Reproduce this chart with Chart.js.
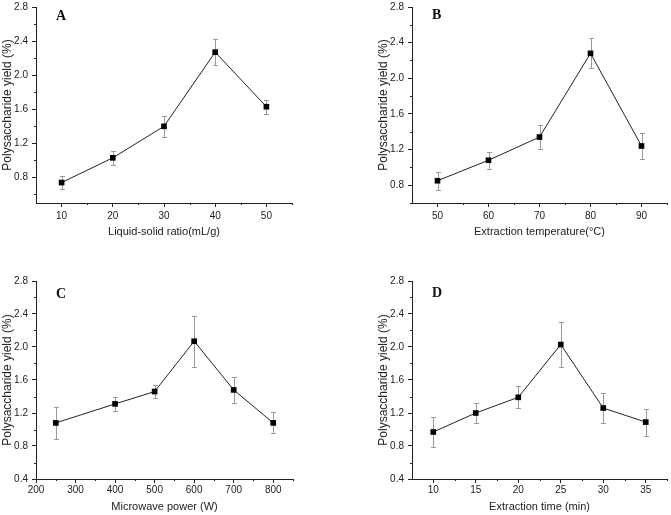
<!DOCTYPE html>
<html>
<head>
<meta charset="utf-8">
<script src="https://cdn.jsdelivr.net/npm/chart.js@4.4.1/dist/chart.umd.min.js"></script>
<style>
  body { margin: 0; background: #fff; width: 671px; height: 515px; position: relative; overflow: hidden; }
  canvas { position: absolute; }
</style>
</head>
<body>
<canvas id="chartA" width="335" height="260" style="left:0;top:-3px"></canvas>
<canvas id="chartB" width="336" height="260" style="left:335px;top:-3px"></canvas>
<canvas id="chartC" width="335" height="258" style="left:0;top:257px"></canvas>
<canvas id="chartD" width="336" height="258" style="left:335px;top:257px"></canvas>
<script>
// A - liquid-solid ratio
var ratioX = [10, 20, 30, 40, 50]
var ratioYield = [0.74, 1.03, 1.40, 2.27, 1.63]
var ratioErr = [0.08, 0.08, 0.125, 0.155, 0.08]

// B - extraction temperature
var tempX = [50, 60, 70, 80, 90]
var tempYield = [0.85, 1.08, 1.34, 2.28, 1.24]
var tempErr = [0.10, 0.093, 0.134, 0.167, 0.145]

// C - microwave power
var powerX = [250, 400, 500, 600, 700, 800]
var powerYield = [1.08, 1.31, 1.46, 2.07, 1.48, 1.08]
var powerErr = [0.19, 0.08, 0.075, 0.31, 0.16, 0.128]

// D - extraction time
var timeX = [10, 15, 20, 25, 30, 35]
var timeYield = [0.97, 1.20, 1.39, 2.03, 1.26, 1.09]
var timeErr = [0.187, 0.12, 0.135, 0.27, 0.178, 0.164]

// tick labels
var yTicksAB = [0.8, 1.2, 1.6, 2.0, 2.4, 2.8]
var yTicksCD = [0.4, 0.8, 1.2, 1.6, 2.0, 2.4, 2.8]
var yMinor = [0.6, 1.0, 1.4, 1.8, 2.2, 2.6]
var xTicksA = [10, 20, 30, 40, 50]
var xMinorA = [15, 25, 35, 45, 55]
var xTicksB = [50, 60, 70, 80, 90]
var xMinorB = [55, 65, 75, 85, 95]
var xTicksC = [200, 300, 400, 500, 600, 700, 800]
var xMinorC = [250, 350, 450, 550, 650, 750, 850]
var xTicksD = [10, 15, 20, 25, 30, 35]
var xMinorD = [12.5, 17.5, 22.5, 27.5, 32.5, 37.5]

var yTitle = 'Polysaccharide yield (%)'
var sans = "'Liberation Sans', Arial, sans-serif"
var ink = '#222'

// error bars, minor ticks and panel letter
var extras = {
    id: 'extras',
    beforeDatasetsDraw: function(chart, args, o) {
        var ctx = chart.ctx
        var xs = chart.scales.x, ys = chart.scales.y
        ctx.save()
        ctx.strokeStyle = '#9a9a9a'
        ctx.lineWidth = 1
        o.err.forEach(function(e, i) {
            var px = Math.round(xs.getPixelForValue(o.xv[i])) + 0.5
            var top = Math.round(ys.getPixelForValue(o.yv[i] + e)) + 0.5
            var bot = Math.round(ys.getPixelForValue(o.yv[i] - e)) + 0.5
            ctx.beginPath()
            ctx.moveTo(px, top); ctx.lineTo(px, bot)
            ctx.moveTo(px - 2.5, top); ctx.lineTo(px + 2.5, top)
            ctx.moveTo(px - 2.5, bot); ctx.lineTo(px + 2.5, bot)
            ctx.stroke()
        })
        ctx.restore()
    },
    afterDraw: function(chart, args, o) {
        var ctx = chart.ctx
        var xs = chart.scales.x, ys = chart.scales.y
        var area = chart.chartArea
        ctx.save()
        ctx.strokeStyle = ink
        ctx.lineWidth = 1
        ctx.beginPath()
        o.xMinor.forEach(function(v) {
            var px = Math.round(xs.getPixelForValue(v)) + 0.5
            ctx.moveTo(px, area.bottom); ctx.lineTo(px, area.bottom + 2)
        })
        o.yMinor.forEach(function(v) {
            var py = Math.round(ys.getPixelForValue(v)) + 0.5
            ctx.moveTo(area.left, py); ctx.lineTo(area.left - 2, py)
        })
        ctx.stroke()
        ctx.fillStyle = '#111'
        ctx.font = "bold 14px 'Liberation Serif', 'Times New Roman', serif"
        ctx.textBaseline = 'alphabetic'
        ctx.fillText(o.letter, area.left + o.letterDx, area.top + o.letterDy)
        ctx.restore()
    }
}

function makeChart(id, p) {
    var pts = p.xv.map(function(x, i) { return { x: x, y: p.yv[i] } })
    return new Chart(document.getElementById(id), {
        type: 'line',
        data: {
            datasets: [{
                data: pts,
                borderColor: ink,
                borderWidth: 1,
                pointStyle: 'rect',
                pointRadius: 4,
                pointBackgroundColor: '#000',
                pointBorderColor: '#000',
                pointBorderWidth: 0,
                tension: 0,
                fill: false
            }]
        },
        options: {
            responsive: false,
            animation: false,
            layout: { padding: { left: p.padLeft, right: p.padRight, top: p.padTop, bottom: 0 } },
            plugins: {
                legend: { display: false },
                tooltip: { enabled: false },
                extras: {
                    xv: p.xv, yv: p.yv, err: p.err,
                    xMinor: p.xMinor, yMinor: yMinor,
                    letter: p.letter, letterDx: p.letterDx, letterDy: p.letterDy
                }
            },
            scales: {
                x: {
                    type: 'linear',
                    min: p.xMin,
                    max: p.xMax,
                    afterBuildTicks: function(s) { s.ticks = p.xTicks.map(function(v) { return { value: v } }) },
                    afterFit: function(s) { s.height = p.xHeight },
                    grid: { drawOnChartArea: false, tickLength: 4, color: ink },
                    border: { color: ink, width: 1 },
                    ticks: {
                        autoSkip: false, maxRotation: 0, padding: p.xTickPad, color: ink,
                        font: { family: sans, size: 10 },
                        callback: function(v) { return String(v) }
                    },
                    title: {
                        display: true, text: p.xTitle, color: ink,
                        font: { family: sans, size: 11 },
                        padding: { top: 0, bottom: p.xTitlePad }
                    }
                },
                y: {
                    min: p.yMin,
                    max: 2.8,
                    afterBuildTicks: function(s) { s.ticks = p.yTicks.map(function(v) { return { value: v } }) },
                    afterFit: function(s) { s.width = p.yWidth },
                    grid: { drawOnChartArea: false, tickLength: 4, color: ink },
                    border: { color: ink, width: 1 },
                    ticks: {
                        padding: 4, color: ink,
                        font: { family: sans, size: 10 },
                        callback: function(v) { return v.toFixed(1) }
                    },
                    title: {
                        display: true, text: yTitle, color: ink,
                        font: { family: sans, size: 12 },
                        padding: { top: 0, bottom: 0 }
                    }
                }
            }
        },
        plugins: [extras]
    })
}

makeChart('chartA', {
    xv: ratioX, yv: ratioYield, err: ratioErr,
    xMin: 5, xMax: 55, xTicks: xTicksA, xMinor: xMinorA,
    yMin: 0.5, yTicks: yTicksAB,
    xTitle: 'Liquid-solid ratio(mL/g)', letter: 'A', letterDx: 20, letterDy: 13,
    padLeft: 0, padRight: 43, padTop: 6, yWidth: 36, xHeight: 54, xTickPad: 3, xTitlePad: 18
})

makeChart('chartB', {
    xv: tempX, yv: tempYield, err: tempErr,
    xMin: 45, xMax: 95, xTicks: xTicksB, xMinor: xMinorB,
    yMin: 0.6, yTicks: yTicksAB,
    xTitle: 'Extraction temperature(\u00B0C)', letter: 'B', letterDx: 20, letterDy: 12,
    padLeft: 41, padRight: 2, padTop: 7, yWidth: 36, xHeight: 54, xTickPad: 3, xTitlePad: 18
})

makeChart('chartC', {
    xv: powerX, yv: powerYield, err: powerErr,
    xMin: 200, xMax: 850, xTicks: xTicksC, xMinor: xMinorC,
    yMin: 0.4, yTicks: yTicksCD,
    xTitle: 'Microwave power (W)', letter: 'C', letterDx: 20, letterDy: 17,
    padLeft: 0, padRight: 42, padTop: 24, yWidth: 36, xHeight: 36, xTickPad: 1, xTitlePad: 1
})

makeChart('chartD', {
    xv: timeX, yv: timeYield, err: timeErr,
    xMin: 7.5, xMax: 37.5, xTicks: xTicksD, xMinor: xMinorD,
    yMin: 0.4, yTicks: yTicksCD,
    xTitle: 'Extraction time (min)', letter: 'D', letterDx: 20, letterDy: 16,
    padLeft: 41, padRight: 2, padTop: 24, yWidth: 36, xHeight: 36, xTickPad: 1, xTitlePad: 1
})
</script>
</body>
</html>
